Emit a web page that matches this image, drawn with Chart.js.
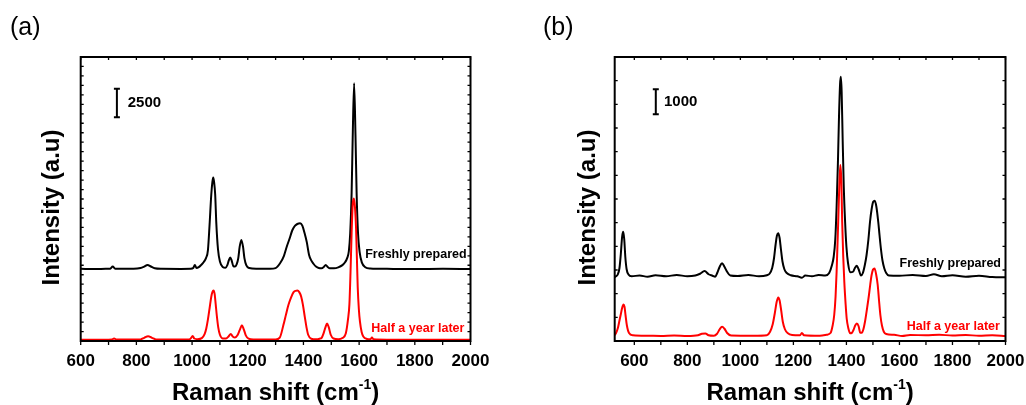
<!DOCTYPE html>
<html>
<head>
<meta charset="utf-8">
<title>Raman spectra</title>
<script src="https://cdn.jsdelivr.net/npm/chart.js@4.4.1/dist/chart.umd.min.js"></script>
<style>
    body { margin: 0; background: #fff; }
    #wrap { position: relative; width: 1026px; height: 405px; }
    .panel { position: absolute; top: 0; height: 405px; }
    #panelA { left: 0; width: 520px; }
    #panelB { left: 520px; width: 506px; }
</style>
</head>
<body>
<div id="wrap">
    <div class="panel" id="panelA"><canvas id="chartA"></canvas></div>
    <div class="panel" id="panelB"><canvas id="chartB"></canvas></div>
</div>
<script>
// ---- panel (a) data ----
const freshShiftA = [600, 650, 690, 706, 715, 724, 790, 815, 828, 840, 852, 866, 890, 960, 995, 1004, 1010, 1016, 1024, 1033,
    1042, 1050, 1057, 1063, 1069, 1073, 1076, 1079, 1083, 1087, 1093, 1100, 1110, 1120, 1127, 1132, 1137, 1142, 1148, 1154,
    1160, 1166, 1171, 1177, 1183, 1188, 1195, 1205, 1230, 1280, 1300, 1316, 1330, 1340, 1350, 1360, 1370, 1378, 1388, 1396,
    1404, 1412, 1420, 1428, 1436, 1445, 1455, 1465, 1473, 1480, 1487, 1495, 1510, 1525, 1540, 1550, 1557, 1563, 1568, 1573,
    1577, 1582, 1587, 1591, 1596, 1602, 1610, 1622, 1640, 1700, 1800, 1900, 2000];
const freshIntA = [6350, 6330, 6350, 6370, 6560, 6370, 6350, 6420, 6550, 6700, 6560, 6400, 6350, 6340, 6350, 6420, 6700, 6420, 6500, 6700,
    6950, 7300, 8000, 10300, 12900, 14000, 14400, 14000, 12900, 10400, 8100, 7000, 6520, 6450, 6700, 7100, 7350, 7100, 6600, 6550,
    6750, 7300, 8300, 8900, 8300, 7300, 6650, 6420, 6360, 6360, 6420, 6840, 7500, 8300, 9000, 9750, 10150, 10300, 10360, 10150,
    9500, 8700, 7600, 7100, 6800, 6550, 6420, 6400, 6520, 6700, 6520, 6400, 6400, 6480, 6680, 6950, 7300, 7900, 9500, 13000,
    18000, 22700, 18000, 13000, 9500, 7800, 6900, 6500, 6380, 6350, 6340, 6350, 6340];

const laterShiftA = [600, 700, 712, 720, 728, 815, 828, 842, 856, 870, 990, 996, 1002, 1008, 1020, 1035, 1045, 1051, 1057, 1063,
    1069, 1073, 1077, 1081, 1085, 1089, 1094, 1100, 1110, 1122, 1131, 1139, 1146, 1154, 1163, 1171, 1179, 1186, 1193, 1203,
    1220, 1300, 1315, 1328, 1337, 1346, 1355, 1364, 1372, 1378, 1385, 1392, 1398, 1405, 1411, 1417, 1428, 1445, 1458, 1466,
    1472, 1479, 1485, 1491, 1498, 1508, 1525, 1540, 1552, 1560, 1565, 1569, 1573, 1577, 1581, 1585, 1589, 1592, 1595, 1599,
    1603, 1609, 1615, 1628, 1640, 1646, 1652, 1700, 1800, 2000];
const laterIntA = [120, 120, 130, 230, 130, 140, 280, 420, 280, 140, 140, 250, 450, 220, 160, 250, 600, 1100, 1900, 2900,
    3900, 4300, 4450, 4150, 3200, 2200, 1200, 550, 230, 220, 400, 620, 400, 300, 500, 950, 1380, 1000, 500, 200,
    130, 140, 300, 1400, 2300, 3170, 3800, 4280, 4420, 4450, 4300, 3900, 3200, 2100, 1200, 550, 200, 150, 200, 300,
    650, 1200, 1530, 1200, 550, 220, 160, 260, 650, 1900, 3200, 6000, 9500, 12000, 12550, 11800, 9900, 7300, 4700, 2800,
    1700, 800, 400, 180, 150, 300, 150, 120, 120, 120];

// ---- panel (b) data ----
const freshShiftB = [526, 531, 538, 544, 549, 554, 558, 562, 566, 571, 578, 590, 620, 650, 680, 720, 760, 800, 830, 848,
    865, 880, 895, 905, 913, 922, 931, 940, 950, 962, 990, 1030, 1070, 1100, 1110, 1120, 1127, 1133, 1138, 1143,
    1148, 1153, 1159, 1166, 1175, 1190, 1215, 1232, 1245, 1270, 1295, 1320, 1335, 1345, 1352, 1358, 1363, 1368, 1372, 1376,
    1379, 1382, 1386, 1390, 1395, 1400, 1406, 1415, 1425, 1432, 1439, 1446, 1455, 1462, 1470, 1476, 1483, 1489, 1495, 1501,
    1507, 1513, 1520, 1525, 1530, 1536, 1543, 1550, 1560, 1600, 1650, 1700, 1730, 1760, 1800, 1850, 1900, 1950, 2000];
const freshIntB = [2380, 2420, 2500, 2750, 3300, 4000, 4200, 3900, 3200, 2700, 2490, 2420, 2450, 2400, 2460, 2420, 2470, 2420, 2450, 2520,
    2630, 2500, 2440, 2400, 2560, 2800, 2940, 2800, 2600, 2450, 2430, 2470, 2420, 2460, 2520, 2750, 3150, 3700, 4050, 4140,
    3950, 3500, 3000, 2700, 2550, 2460, 2420, 2360, 2450, 2420, 2470, 2450, 2550, 2850, 3200, 3900, 5200, 7000, 8800, 10100,
    10400, 9800, 7800, 6000, 4600, 3600, 2950, 2580, 2600, 2750, 2840, 2700, 2450, 2550, 2900, 3270, 3900, 4600, 5100, 5400,
    5440, 5200, 4600, 4050, 3530, 3050, 2730, 2550, 2450, 2440, 2470, 2430, 2500, 2420, 2460, 2400, 2440, 2390, 2380];

const laterShiftB = [526, 531, 538, 543, 549, 554, 559, 563, 567, 572, 580, 595, 650, 700, 750, 800, 840, 855, 868, 880,
    900, 912, 922, 931, 940, 950, 965, 1050, 1100, 1112, 1122, 1130, 1137, 1143, 1148, 1154, 1160, 1168, 1178, 1195,
    1225, 1232, 1240, 1300, 1325, 1340, 1348, 1354, 1359, 1363, 1369, 1373, 1377, 1381, 1384, 1388, 1392, 1397, 1401, 1407,
    1414, 1420, 1427, 1433, 1439, 1446, 1452, 1458, 1464, 1470, 1478, 1485, 1490, 1495, 1500, 1506, 1512, 1518, 1523, 1528,
    1534, 1541, 1550, 1580, 1610, 1640, 1700, 1750, 1800, 1850, 1900, 1950, 2000];
const laterIntB = [60, 150, 350, 600, 900, 1150, 1295, 1200, 850, 450, 150, 60, 40, 30, 50, 30, 60, 120, 130, 60,
    40, 120, 300, 400, 320, 150, 50, 40, 60, 200, 500, 950, 1400, 1575, 1450, 1050, 600, 300, 150, 70,
    60, 150, 60, 40, 80, 150, 450, 870, 1600, 2600, 4600, 6000, 6868, 6200, 4600, 3200, 2200, 1300, 730, 350,
    140, 150, 280, 450, 533, 420, 160, 160, 300, 600, 1150, 1670, 2100, 2470, 2680, 2730, 2500, 2070, 1450, 870,
    450, 200, 110, 80, 30, 70, 60, 80, 50, 70, 40, 60, 30];

const FONT = "'Liberation Sans', Arial, sans-serif";

function toPoints(xs, ys) {
    return xs.map((x, i) => ({ x: x, y: ys[i] }));
}

// Draws the frame, inward ticks, scale bar, series labels and axis titles
const decorPlugin = {
    id: 'decor',
    afterDatasetsDraw(chart, args, opts) {
        const { ctx, chartArea: a, scales: { x, y } } = chart;
        ctx.save();

        // tick marks
        ctx.strokeStyle = '#000';
        ctx.lineWidth = 1.3;
        ctx.beginPath();
        x.ticks.forEach(t => {
            const px = x.getPixelForValue(t.value);
            ctx.moveTo(px, a.bottom); ctx.lineTo(px, a.bottom + 4);
            ctx.moveTo(px, a.top); ctx.lineTo(px, a.top + 3);
        });
        y.ticks.forEach(t => {
            const py = y.getPixelForValue(t.value);
            ctx.moveTo(a.left, py); ctx.lineTo(a.left + 3, py);
            ctx.moveTo(a.right, py); ctx.lineTo(a.right - 3, py);
        });
        ctx.stroke();

        // frame
        ctx.lineWidth = 2;
        ctx.strokeRect(a.left, a.top, a.width, a.height);

        // scale bar
        const bx = x.getPixelForValue(opts.bar.x);
        const by1 = y.getPixelForValue(opts.bar.from);
        const by2 = y.getPixelForValue(opts.bar.to);
        ctx.lineWidth = 2;
        ctx.beginPath();
        ctx.moveTo(bx, by1); ctx.lineTo(bx, by2);
        ctx.moveTo(bx - 3, by1); ctx.lineTo(bx + 3, by1);
        ctx.moveTo(bx - 3, by2); ctx.lineTo(bx + 3, by2);
        ctx.stroke();
        ctx.fillStyle = '#000';
        ctx.font = 'bold 15px ' + FONT;
        ctx.textAlign = 'left';
        ctx.textBaseline = 'middle';
        ctx.fillText(opts.bar.text, x.getPixelForValue(opts.bar.textX), (by1 + by2) / 2);

        // series labels
        ctx.font = 'bold 12.5px ' + FONT;
        ctx.textAlign = 'right';
        opts.labels.forEach(l => {
            ctx.fillStyle = l.color;
            ctx.fillText(l.text, x.getPixelForValue(l.x), y.getPixelForValue(l.y));
        });

        // x axis title with superscript
        ctx.fillStyle = '#000';
        ctx.textBaseline = 'alphabetic';
        ctx.textAlign = 'left';
        const main = 'Raman shift (cm';
        const sup = '-1';
        const close = ')';
        ctx.font = 'bold 24px ' + FONT;
        const wMain = ctx.measureText(main).width;
        const wClose = ctx.measureText(close).width;
        ctx.font = 'bold 14px ' + FONT;
        const wSup = ctx.measureText(sup).width;
        let tx = (a.left + a.right) / 2 - (wMain + wSup + wClose) / 2;
        const base = 400;
        ctx.font = 'bold 24px ' + FONT;
        ctx.fillText(main, tx, base);
        ctx.font = 'bold 14px ' + FONT;
        ctx.fillText(sup, tx + wMain, base - 11);
        ctx.font = 'bold 24px ' + FONT;
        ctx.fillText(close, tx + wMain + wSup, base);

        // y axis title
        ctx.save();
        ctx.translate(a.left - opts.yTitleGap, 207.5);
        ctx.rotate(-Math.PI / 2);
        ctx.textAlign = 'center';
        ctx.textBaseline = 'middle';
        ctx.font = 'bold 24px ' + FONT;
        ctx.fillText('Intensity (a.u)', 0, 0);
        ctx.restore();

        // panel letter
        ctx.font = '25px ' + FONT;
        ctx.textAlign = 'left';
        ctx.fillText(opts.letter, opts.letterX, 35);

        ctx.restore();
    }
};

function makePanel(canvasId, panel) {
    const ctx = document.getElementById(canvasId).getContext('2d');
    return new Chart(ctx, {
        type: 'line',
        data: {
            datasets: [
                {
                    label: 'Half a year later',
                    data: toPoints(panel.laterShift, panel.laterInt),
                    borderColor: '#ff0000',
                    borderWidth: 2,
                    pointRadius: 0,
                    cubicInterpolationMode: 'monotone',
                    order: 0
                },
                {
                    label: 'Freshly prepared',
                    data: toPoints(panel.freshShift, panel.freshInt),
                    borderColor: '#000000',
                    borderWidth: 2,
                    pointRadius: 0,
                    cubicInterpolationMode: 'monotone',
                    order: 1
                }
            ]
        },
        options: {
            responsive: true,
            maintainAspectRatio: false,
            animation: false,
            devicePixelRatio: 1,
            layout: { padding: panel.padding },
            plugins: {
                legend: { display: false },
                tooltip: { enabled: false },
                decor: panel.decor
            },
            scales: {
                x: {
                    type: 'linear',
                    min: panel.xMin,
                    max: 2000,
                    // fixed height; end labels may overhang the plot area
                    afterFit: s => { s.height = 64; s.paddingLeft = 0; s.paddingRight = 0; },
                    grid: { display: false, drawTicks: false },
                    border: { display: false },
                    ticks: {
                        stepSize: 100,
                        includeBounds: false,
                        autoSkip: false,
                        maxRotation: 0,
                        padding: 10,
                        color: '#000',
                        font: { family: FONT, size: 17, weight: 'bold' },
                        callback: v => (v % 200 === 0 ? String(v) : '')
                    }
                },
                y: {
                    type: 'linear',
                    min: panel.yMin,
                    max: panel.yMax,
                    afterFit: s => { s.width = 0; },
                    grid: { display: false, drawTicks: false },
                    border: { display: false },
                    ticks: { display: false, stepSize: panel.yStep }
                }
            }
        },
        plugins: [decorPlugin]
    });
}

makePanel('chartA', {
    freshShift: freshShiftA, freshInt: freshIntA,
    laterShift: laterShiftA, laterInt: laterIntA,
    xMin: 600, yMin: 0, yMax: 25000, yStep: 2500 / 3,
    padding: { left: 80.7, right: 49.5, top: 57, bottom: 0 },
    decor: {
        bar: { x: 730, from: 19700, to: 22200, text: '2500', textX: 769 },
        labels: [
            { text: 'Freshly prepared', x: 1986, y: 7650, color: '#000' },
            { text: 'Half a year later', x: 1978, y: 1120, color: '#ff0000' }
        ],
        yTitleGap: 28.7,
        letter: '(a)', letterX: 10
    }
});

makePanel('chartB', {
    freshShift: freshShiftB, freshInt: freshIntB,
    laterShift: laterShiftB, laterInt: laterIntB,
    xMin: 526, yMin: -170, yMax: 11190, yStep: 933,
    padding: { left: 94.7, right: 20.5, top: 57, bottom: 0 },
    decor: {
        bar: { x: 681, from: 8900, to: 9900, text: '1000', textX: 712 },
        labels: [
            { text: 'Freshly prepared', x: 1983, y: 2910, color: '#000' },
            { text: 'Half a year later', x: 1979, y: 400, color: '#ff0000' }
        ],
        yTitleGap: 26.7,
        letter: '(b)', letterX: 23
    }
});
</script>
</body>
</html>
